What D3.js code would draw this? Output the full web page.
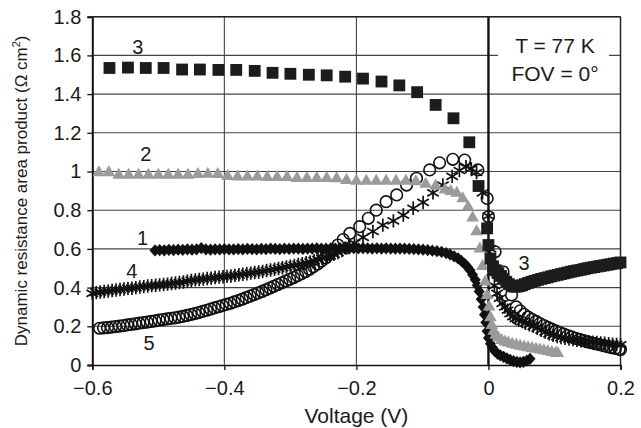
<!DOCTYPE html>
<html><head><meta charset="utf-8">
<script src="https://cdn.jsdelivr.net/npm/d3@7"></script>
<style>body{margin:0;background:#fff}svg{display:block}text{font-family:"Liberation Sans",Arial,Helvetica,sans-serif;fill:#1a1a1a}</style>
</head><body><svg id="c" width="641" height="428"></svg>
<script>
// ---- data (Voltage V, dynamic resistance area product Ω cm²) ----
const xTicks = [-0.6, -0.4, -0.2, 0, 0.2];
const xTickLabels = ["\u22120.6", "\u22120.4", "\u22120.2", "0", "0.2"];
const yTicks = [0, 0.2, 0.4, 0.6, 0.8, 1.0, 1.2, 1.4, 1.6, 1.8];
const yTickLabels = ["0", "0.2", "0.4", "0.6", "0.8", "1", "1.2", "1.4", "1.6", "1.8"];

const series1 = [[-0.505,0.592],[-0.498,0.594],[-0.491,0.593],[-0.484,0.595],[-0.477,0.594],[-0.470,0.596],[-0.463,0.595],[-0.456,0.597],[-0.449,0.596],[-0.442,0.598],[-0.435,0.604],[-0.428,0.597],[-0.421,0.596],[-0.414,0.598],[-0.407,0.597],[-0.400,0.599],[-0.393,0.598],[-0.386,0.597],[-0.379,0.599],[-0.372,0.598],[-0.365,0.600],[-0.358,0.599],[-0.351,0.598],[-0.344,0.600],[-0.337,0.599],[-0.330,0.601],[-0.323,0.600],[-0.316,0.599],[-0.309,0.601],[-0.302,0.600],[-0.295,0.602],[-0.288,0.601],[-0.281,0.600],[-0.274,0.602],[-0.267,0.601],[-0.260,0.603],[-0.253,0.602],[-0.246,0.601],[-0.239,0.603],[-0.232,0.602],[-0.225,0.604],[-0.218,0.603],[-0.211,0.602],[-0.204,0.604],[-0.197,0.603],[-0.190,0.604],[-0.183,0.603],[-0.176,0.602],[-0.169,0.603],[-0.162,0.602],[-0.155,0.603],[-0.148,0.602],[-0.141,0.601],[-0.134,0.602],[-0.127,0.601],[-0.120,0.600],[-0.113,0.599],[-0.106,0.598],[-0.099,0.596],[-0.092,0.594],[-0.085,0.591],[-0.078,0.588],[-0.071,0.584],[-0.064,0.578],[-0.058,0.571],[-0.052,0.562],[-0.046,0.551],[-0.041,0.538],[-0.036,0.523],[-0.032,0.508],[-0.028,0.490],[-0.024,0.466],[-0.020,0.440],[-0.017,0.412],[-0.014,0.380],[-0.011,0.340],[-0.008,0.300],[-0.006,0.260],[-0.004,0.220],[-0.002,0.175],[0.000,0.140],[0.003,0.110],[0.006,0.090],[0.010,0.070],[0.014,0.058],[0.018,0.050],[0.023,0.042],[0.028,0.034],[0.033,0.026],[0.038,0.020],[0.043,0.016],[0.048,0.014],[0.053,0.016],[0.058,0.022],[0.063,0.032]];

const series2 = [[-0.590,0.994],[-0.575,0.994],[-0.560,0.982],[-0.545,0.982],[-0.530,0.982],[-0.515,0.982],[-0.500,0.982],[-0.485,0.982],[-0.470,0.982],[-0.455,0.982],[-0.440,0.985],[-0.425,0.987],[-0.410,0.985],[-0.395,0.975],[-0.380,0.972],[-0.365,0.972],[-0.350,0.972],[-0.335,0.970],[-0.320,0.970],[-0.305,0.970],[-0.290,0.965],[-0.275,0.965],[-0.260,0.965],[-0.245,0.965],[-0.230,0.963],[-0.215,0.955],[-0.200,0.951],[-0.185,0.951],[-0.170,0.951],[-0.155,0.951],[-0.140,0.951],[-0.125,0.950],[-0.110,0.948],[-0.095,0.935],[-0.080,0.925],[-0.066,0.905],[-0.057,0.898],[-0.048,0.888],[-0.039,0.860],[-0.031,0.818],[-0.024,0.760],[-0.018,0.690],[-0.013,0.600],[-0.009,0.510],[-0.005,0.430],[-0.002,0.360],[0.001,0.300],[0.003,0.245],[0.005,0.205],[0.008,0.175],[0.011,0.155],[0.015,0.140],[0.020,0.128],[0.025,0.120],[0.030,0.114],[0.036,0.108],[0.042,0.103],[0.048,0.098],[0.054,0.094],[0.060,0.090],[0.066,0.086],[0.072,0.082],[0.078,0.078],[0.084,0.074],[0.090,0.070],[0.096,0.066],[0.102,0.062],[0.105,0.060]];

const series3 = [[-0.574,1.535],[-0.546,1.537],[-0.519,1.535],[-0.492,1.535],[-0.464,1.527],[-0.437,1.527],[-0.409,1.525],[-0.382,1.525],[-0.354,1.520],[-0.327,1.510],[-0.300,1.505],[-0.272,1.500],[-0.245,1.497],[-0.217,1.490],[-0.190,1.480],[-0.162,1.465],[-0.135,1.445],[-0.108,1.410],[-0.080,1.344],[-0.053,1.275],[-0.029,1.151],[-0.015,0.925],[-0.002,0.706],[0.000,0.620],[0.003,0.550],[0.007,0.510],[0.011,0.490],[0.015,0.475],[0.019,0.460],[0.023,0.445],[0.027,0.430],[0.031,0.418],[0.035,0.410],[0.039,0.405],[0.043,0.405],[0.047,0.408],[0.051,0.412],[0.055,0.418],[0.060,0.424],[0.065,0.430],[0.070,0.435],[0.075,0.440],[0.080,0.445],[0.085,0.449],[0.090,0.453],[0.095,0.458],[0.100,0.462],[0.105,0.466],[0.110,0.470],[0.115,0.474],[0.120,0.478],[0.125,0.482],[0.130,0.486],[0.135,0.489],[0.140,0.492],[0.145,0.496],[0.150,0.500],[0.155,0.503],[0.160,0.506],[0.165,0.509],[0.170,0.512],[0.175,0.515],[0.180,0.518],[0.185,0.521],[0.190,0.524],[0.195,0.527],[0.200,0.530]];

const series4 = [[-0.600,0.370],[-0.594,0.374],[-0.588,0.377],[-0.582,0.380],[-0.576,0.382],[-0.570,0.385],[-0.564,0.388],[-0.558,0.390],[-0.552,0.393],[-0.546,0.396],[-0.540,0.397],[-0.534,0.400],[-0.528,0.403],[-0.522,0.405],[-0.516,0.408],[-0.510,0.410],[-0.504,0.412],[-0.498,0.414],[-0.492,0.416],[-0.486,0.418],[-0.480,0.421],[-0.474,0.424],[-0.468,0.426],[-0.462,0.429],[-0.456,0.433],[-0.450,0.437],[-0.444,0.440],[-0.438,0.442],[-0.432,0.444],[-0.426,0.447],[-0.420,0.449],[-0.414,0.452],[-0.408,0.454],[-0.402,0.456],[-0.396,0.458],[-0.390,0.460],[-0.384,0.463],[-0.378,0.466],[-0.372,0.469],[-0.366,0.472],[-0.360,0.475],[-0.354,0.478],[-0.348,0.481],[-0.342,0.484],[-0.336,0.488],[-0.330,0.491],[-0.324,0.495],[-0.318,0.499],[-0.312,0.503],[-0.306,0.507],[-0.300,0.511],[-0.294,0.515],[-0.288,0.519],[-0.282,0.523],[-0.276,0.528],[-0.270,0.533],[-0.264,0.539],[-0.258,0.545],[-0.252,0.551],[-0.246,0.557],[-0.240,0.564],[-0.234,0.572],[-0.228,0.581],[-0.222,0.592],[-0.216,0.604],[-0.210,0.617],[-0.203,0.630],[-0.190,0.660],[-0.175,0.690],[-0.160,0.723],[-0.144,0.745],[-0.129,0.775],[-0.114,0.810],[-0.099,0.840],[-0.084,0.890],[-0.069,0.930],[-0.055,0.975],[-0.044,1.005],[-0.034,1.025],[-0.026,1.015],[-0.018,0.995],[-0.009,0.890],[0.000,0.770],[0.003,0.600],[0.006,0.480],[0.009,0.410],[0.013,0.370],[0.017,0.345],[0.021,0.318],[0.025,0.300],[0.029,0.283],[0.033,0.265],[0.037,0.250],[0.041,0.240],[0.046,0.232],[0.051,0.224],[0.056,0.216],[0.062,0.208],[0.068,0.200],[0.074,0.190],[0.080,0.180],[0.086,0.170],[0.092,0.161],[0.098,0.153],[0.104,0.147],[0.110,0.142],[0.116,0.138],[0.122,0.134],[0.128,0.131],[0.134,0.128],[0.140,0.125],[0.146,0.122],[0.152,0.120],[0.158,0.118],[0.164,0.116],[0.170,0.114],[0.176,0.112],[0.182,0.110],[0.188,0.108],[0.194,0.106],[0.200,0.104]];

const series5 = [[-0.589,0.190],[-0.583,0.192],[-0.577,0.193],[-0.571,0.196],[-0.565,0.198],[-0.559,0.201],[-0.553,0.204],[-0.547,0.207],[-0.541,0.210],[-0.535,0.213],[-0.529,0.216],[-0.523,0.219],[-0.517,0.222],[-0.511,0.225],[-0.505,0.228],[-0.499,0.232],[-0.493,0.235],[-0.487,0.238],[-0.481,0.241],[-0.475,0.244],[-0.469,0.247],[-0.463,0.251],[-0.457,0.256],[-0.451,0.261],[-0.445,0.266],[-0.439,0.271],[-0.433,0.277],[-0.427,0.283],[-0.421,0.289],[-0.415,0.295],[-0.409,0.301],[-0.403,0.307],[-0.397,0.313],[-0.391,0.319],[-0.385,0.326],[-0.379,0.333],[-0.373,0.340],[-0.367,0.348],[-0.361,0.356],[-0.355,0.364],[-0.349,0.372],[-0.343,0.380],[-0.337,0.389],[-0.331,0.398],[-0.325,0.407],[-0.319,0.416],[-0.313,0.425],[-0.307,0.434],[-0.301,0.443],[-0.295,0.452],[-0.289,0.462],[-0.283,0.472],[-0.277,0.483],[-0.271,0.495],[-0.265,0.508],[-0.259,0.522],[-0.253,0.537],[-0.247,0.553],[-0.241,0.572],[-0.235,0.594],[-0.228,0.620],[-0.220,0.648],[-0.210,0.680],[-0.195,0.715],[-0.182,0.758],[-0.170,0.800],[-0.155,0.844],[-0.139,0.879],[-0.124,0.930],[-0.109,0.965],[-0.089,1.008],[-0.074,1.045],[-0.054,1.063],[-0.036,1.059],[-0.016,1.008],[-0.002,0.861],[0.000,0.766],[0.010,0.585],[0.022,0.482],[0.035,0.362],[0.042,0.300],[0.048,0.280],[0.054,0.262],[0.060,0.248],[0.066,0.236],[0.072,0.225],[0.078,0.214],[0.084,0.204],[0.090,0.194],[0.096,0.185],[0.102,0.176],[0.108,0.168],[0.114,0.160],[0.120,0.152],[0.126,0.145],[0.132,0.138],[0.138,0.132],[0.144,0.126],[0.150,0.120],[0.156,0.115],[0.162,0.110],[0.168,0.105],[0.174,0.100],[0.180,0.095],[0.186,0.090],[0.192,0.086],[0.198,0.082],[0.200,0.080]];

const curveLabels = [["3",-0.531,1.643],["2",-0.519,1.090],["1",-0.524,0.656],["4",-0.540,0.486],["5",-0.514,0.114],["3",0.054,0.527]];
const infoLines = ["T = 77 K", "FOV = 0\u00B0"];

// ---- layout ----
const svg = d3.select("#c");
const pL = 92.3, pR = 620.5, pT = 16.7, pB = 365;
const x = d3.scaleLinear().domain([-0.6, 0.2]).range([pL, pR]);
const y = d3.scaleLinear().domain([0, 1.8]).range([pB, pT]);

svg.append("rect").attr("width", 641).attr("height", 428).attr("fill", "#fff");

// gridlines
const grid = svg.append("g");
grid.selectAll("line.h").data(yTicks.filter(d => d > 0)).join("line")
  .attr("x1", pL).attr("x2", pR).attr("y1", d => y(d)).attr("y2", d => y(d))
  .attr("stroke", "#444").attr("stroke-width", 1.1);
grid.selectAll("line.v").data(xTicks.filter(d => d !== 0 && d !== -0.6)).join("line")
  .attr("x1", d => x(d)).attr("x2", d => x(d)).attr("y1", pT).attr("y2", pB)
  .attr("stroke", "#444").attr("stroke-width", 1.1);

// info box
svg.append("rect").attr("x", 498).attr("y", 28).attr("width", 111).attr("height", 60).attr("fill", "#fff");
svg.selectAll("text.info").data(infoLines).join("text")
  .attr("x", 555).attr("y", (d, i) => 53 + i * 28)
  .attr("text-anchor", "middle").attr("font-size", 21).text(d => d);

// zero line
svg.append("line").attr("x1", x(0)).attr("x2", x(0)).attr("y1", pT).attr("y2", pB)
  .attr("stroke", "#111").attr("stroke-width", 2.4);

// axes
const yAxis = d3.axisLeft(y).tickValues(yTicks).tickFormat((d, i) => yTickLabels[i]).tickSize(5).tickPadding(6);
const gy = svg.append("g").attr("transform", `translate(${pL},0)`).call(yAxis);
gy.select(".domain").attr("stroke", "#111").attr("stroke-width", 2);
gy.selectAll(".tick line").attr("stroke", "#111").attr("stroke-width", 1.3);
gy.selectAll(".tick text").attr("font-size", 20).attr("font-family", '"Liberation Sans",Arial,sans-serif').attr("fill", "#1a1a1a");

const xAxis = d3.axisBottom(x).tickValues(xTicks).tickFormat((d, i) => xTickLabels[i]).tickSize(5).tickPadding(11);
const gx = svg.append("g").attr("transform", `translate(0,${pB})`).call(xAxis);
gx.select(".domain").attr("stroke", "#111").attr("stroke-width", 1.6);
gx.selectAll(".tick line").attr("stroke", "#111").attr("stroke-width", 1.3);
gx.selectAll(".tick text").attr("font-size", 20).attr("font-family", '"Liberation Sans",Arial,sans-serif').attr("fill", "#1a1a1a");

// top / right frame
svg.append("line").attr("x1", pL).attr("x2", pR).attr("y1", pT).attr("y2", pT).attr("stroke", "#222").attr("stroke-width", 1.4);
svg.append("line").attr("x1", pR).attr("x2", pR).attr("y1", pT).attr("y2", pB).attr("stroke", "#222").attr("stroke-width", 1.4);

// marker shapes
const asterisk = { draw(ctx, size) { const r = Math.sqrt(size) / 2; const t = r / 2, u = t * Math.sqrt(3);
  ctx.moveTo(0, r); ctx.lineTo(0, -r); ctx.moveTo(-u, -t); ctx.lineTo(u, t); ctx.moveTo(-u, t); ctx.lineTo(u, -t); } };
const wideDiamond = { draw(ctx, size) { const h = Math.sqrt(size) / 2, w = h * 0.9;
  ctx.moveTo(0, -h); ctx.lineTo(w, 0); ctx.lineTo(0, h); ctx.lineTo(-w, 0); ctx.closePath(); } };

const marks = svg.append("g");
marks.selectAll("path.s1").data(series1).join("path")
  .attr("transform", d => `translate(${x(d[0])},${y(d[1])})`)
  .attr("d", d3.symbol(wideDiamond, 150)).attr("fill", "#111");
marks.selectAll("path.s4").data(series4).join("path")
  .attr("transform", d => `translate(${x(d[0])},${y(d[1])})`)
  .attr("d", d3.symbol(asterisk, 180)).attr("fill", "none").attr("stroke", "#111").attr("stroke-width", 1.7);
marks.selectAll("circle.s5").data(series5).join("circle")
  .attr("cx", d => x(d[0])).attr("cy", d => y(d[1])).attr("r", 5.8)
  .attr("fill", "none").attr("stroke", "#111").attr("stroke-width", 1.6);
marks.selectAll("path.s2").data(series2).join("path")
  .attr("transform", d => `translate(${x(d[0])},${y(d[1])})`)
  .attr("d", d3.symbol(d3.symbolTriangle, 70)).attr("fill", "#9b9b9b");
marks.selectAll("path.s3").data(series3).join("path")
  .attr("transform", d => `translate(${x(d[0])},${y(d[1])})`)
  .attr("d", d3.symbol(d3.symbolSquare, 140)).attr("fill", "#1c1c1c");

// curve labels
svg.selectAll("text.lab").data(curveLabels).join("text")
  .attr("x", d => x(d[1])).attr("y", d => y(d[2]))
  .attr("text-anchor", "middle").attr("dominant-baseline", "central")
  .attr("font-size", 20).text(d => d[0]);

// axis titles
svg.append("text").attr("x", (pL + pR) / 2).attr("y", 423)
  .attr("text-anchor", "middle").attr("font-size", 21).text("Voltage (V)");
const yt = svg.append("text").attr("transform", `translate(27,${(pT + pB) / 2}) rotate(-90)`)
  .attr("text-anchor", "middle").attr("font-size", 17);
yt.append("tspan").text("Dynamic resistance area product (\u03A9 cm");
yt.append("tspan").attr("dy", -7).attr("font-size", 11).text("2");
yt.append("tspan").attr("dy", 7).text(")");
</script></body></html>
